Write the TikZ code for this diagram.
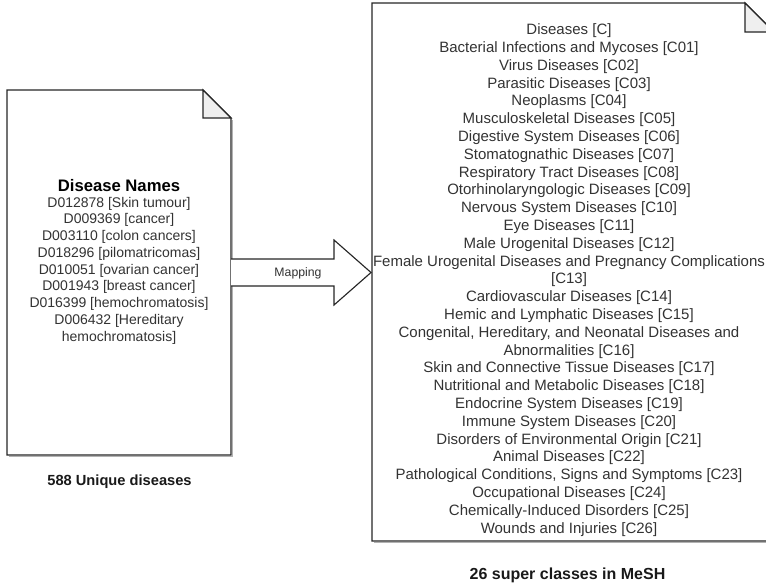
\documentclass[tikz,border=0pt]{standalone}
\usepackage{fontspec}
\setmainfont{Liberation Sans}
\definecolor{txtgray}{HTML}{333333}
\definecolor{foldgray}{HTML}{EFEFEF}
\definecolor{edgegray}{HTML}{262626}
\begin{document}
\begin{tikzpicture}[x=0.75pt,y=-0.75pt,
  docline/.style={draw=edgegray, line width=0.85pt, fill=white, line join=miter},
  foldpart/.style={draw=edgegray, line width=0.85pt, fill=foldgray},
  shadowline/.style={draw=black!30, line width=1.2pt},
  listtext/.style={align=center, text=txtgray, inner sep=0pt},
  leftfont/.style={font={\fontsize{10.5}{12.56}\selectfont}},
  rightfont/.style={font={\fontsize{11.25}{13.35}\selectfont}},
  titletext/.style={align=center, text=black, inner sep=0pt, font={\bfseries\fontsize{12.5}{15}\selectfont}},
  captiontext/.style={align=center, text=black!90, inner sep=0pt, font={\bfseries\fontsize{11}{13}\selectfont}},
  maplabel/.style={text=txtgray, inner sep=0pt, font={\fontsize{9.2}{11}\selectfont}}
]
\useasboundingbox (0,0) rectangle (766,586);
\clip (0,0) rectangle (766,586);

% shadows
\draw[shadowline] (232.5,119.5) -- (232.5,456.5) -- (8.5,456.5);
\draw[shadowline] (775.5,33.5) -- (775.5,542.5) -- (373.5,542.5);

% left document
\draw[docline] (7,90) -- (203,90) -- (231,118) -- (231,455) -- (7,455) -- cycle;
\draw[foldpart] (203,90) -- (203,118) -- (231,118) -- cycle;

% right document
\draw[docline] (372,3) -- (745,3) -- (774,32) -- (774,541) -- (372,541) -- cycle;
\draw[foldpart] (745,3) -- (745,32) -- (774,32) -- cycle;

% block arrow
\draw[docline] (231,259) -- (334,259) -- (334,240) -- (371,272.5) -- (334,305) -- (334,286) -- (231,286);
\node[maplabel] (map) at (298,273) {Mapping};

% left texts
\node[titletext] (lefttitle) at (119,186) {Disease Names};
\node[listtext, leftfont] (leftlist) at (119,270.5) {D012878 [Skin tumour]\\
D009369 [cancer]\\
D003110 [colon cancers]\\
D018296 [pilomatricomas]\\
D010051 [ovarian cancer]\\
D001943 [breast cancer]\\
D016399 [hemochromatosis]\\
D006432 [Hereditary\\
hemochromatosis]};
\node[captiontext] (leftcap) at (119.5,482) {588 Unique diseases};

% right texts
\node[listtext, rightfont] (rightlist) at (569,280) {Diseases [C]\\
Bacterial Infections and Mycoses [C01]\\
Virus Diseases [C02]\\
Parasitic Diseases [C03]\\
Neoplasms [C04]\\
Musculoskeletal Diseases [C05]\\
Digestive System Diseases [C06]\\
Stomatognathic Diseases [C07]\\
Respiratory Tract Diseases [C08]\\
Otorhinolaryngologic Diseases [C09]\\
Nervous System Diseases [C10]\\
Eye Diseases [C11]\\
Male Urogenital Diseases [C12]\\
Female Urogenital Diseases and Pregnancy Complications\\
{[C13]}\\
Cardiovascular Diseases [C14]\\
Hemic and Lymphatic Diseases [C15]\\
Congenital, Hereditary, and Neonatal Diseases and\\
Abnormalities [C16]\\
Skin and Connective Tissue Diseases [C17]\\
Nutritional and Metabolic Diseases [C18]\\
Endocrine System Diseases [C19]\\
Immune System Diseases [C20]\\
Disorders of Environmental Origin [C21]\\
Animal Diseases [C22]\\
Pathological Conditions, Signs and Symptoms [C23]\\
Occupational Diseases [C24]\\
Chemically-Induced Disorders [C25]\\
Wounds and Injuries [C26]};
\node[captiontext, font={\bfseries\fontsize{12}{14}\selectfont}] (rightcap) at (567.5,575) {26 super classes in MeSH};
\end{tikzpicture}
\end{document}
